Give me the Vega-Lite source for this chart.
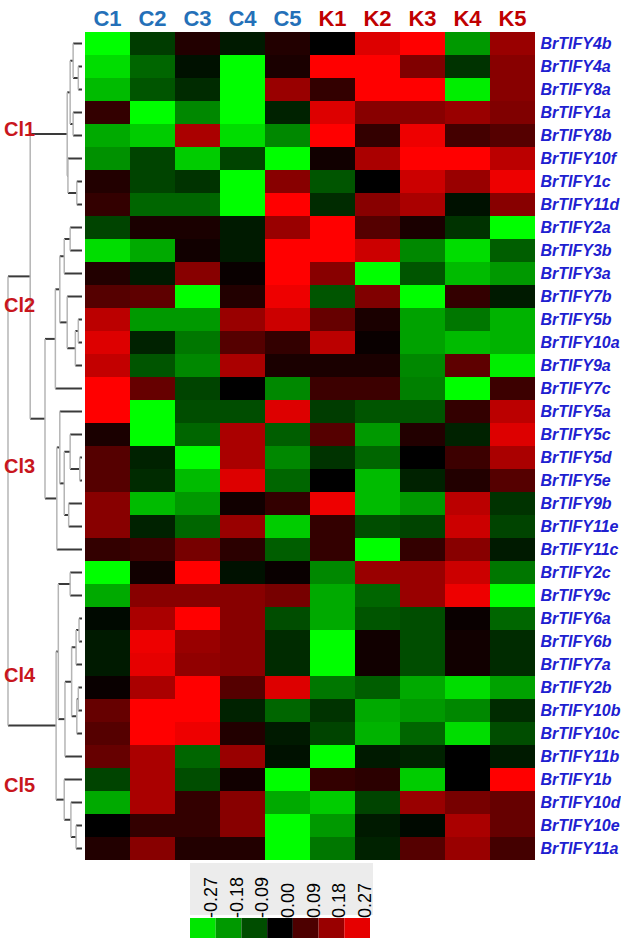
{
"$schema": "https://vega.github.io/schema/vega-lite/v6.json",
"padding": {"left": 0, "top": 7, "right": 0, "bottom": 0},
"config": {"view": {"stroke": null}, "font": "Liberation Sans"},
"datasets": {
"heat": [
{"g":"BrTIFY4b","c":"C1","v":-0.3},{"g":"BrTIFY4b","c":"C2","v":-0.07},{"g":"BrTIFY4b","c":"C3","v":0.04},{"g":"BrTIFY4b","c":"C4","v":-0.03},{"g":"BrTIFY4b","c":"C5","v":0.04},{"g":"BrTIFY4b","c":"K1","v":0.0},{"g":"BrTIFY4b","c":"K2","v":0.26},{"g":"BrTIFY4b","c":"K3","v":0.3},{"g":"BrTIFY4b","c":"K4","v":-0.18},{"g":"BrTIFY4b","c":"K5","v":0.18},
{"g":"BrTIFY4a","c":"C1","v":-0.26},{"g":"BrTIFY4a","c":"C2","v":-0.12},{"g":"BrTIFY4a","c":"C3","v":-0.02},{"g":"BrTIFY4a","c":"C4","v":-0.3},{"g":"BrTIFY4a","c":"C5","v":0.03},{"g":"BrTIFY4a","c":"K1","v":0.3},{"g":"BrTIFY4a","c":"K2","v":0.3},{"g":"BrTIFY4a","c":"K3","v":0.15},{"g":"BrTIFY4a","c":"K4","v":-0.06},{"g":"BrTIFY4a","c":"K5","v":0.16},
{"g":"BrTIFY8a","c":"C1","v":-0.22},{"g":"BrTIFY8a","c":"C2","v":-0.1},{"g":"BrTIFY8a","c":"C3","v":-0.05},{"g":"BrTIFY8a","c":"C4","v":-0.3},{"g":"BrTIFY8a","c":"C5","v":0.18},{"g":"BrTIFY8a","c":"K1","v":0.06},{"g":"BrTIFY8a","c":"K2","v":0.3},{"g":"BrTIFY8a","c":"K3","v":0.3},{"g":"BrTIFY8a","c":"K4","v":-0.28},{"g":"BrTIFY8a","c":"K5","v":0.16},
{"g":"BrTIFY1a","c":"C1","v":0.06},{"g":"BrTIFY1a","c":"C2","v":-0.3},{"g":"BrTIFY1a","c":"C3","v":-0.16},{"g":"BrTIFY1a","c":"C4","v":-0.3},{"g":"BrTIFY1a","c":"C5","v":-0.04},{"g":"BrTIFY1a","c":"K1","v":0.26},{"g":"BrTIFY1a","c":"K2","v":0.16},{"g":"BrTIFY1a","c":"K3","v":0.16},{"g":"BrTIFY1a","c":"K4","v":0.18},{"g":"BrTIFY1a","c":"K5","v":0.15},
{"g":"BrTIFY8b","c":"C1","v":-0.2},{"g":"BrTIFY8b","c":"C2","v":-0.24},{"g":"BrTIFY8b","c":"C3","v":0.2},{"g":"BrTIFY8b","c":"C4","v":-0.26},{"g":"BrTIFY8b","c":"C5","v":-0.16},{"g":"BrTIFY8b","c":"K1","v":0.3},{"g":"BrTIFY8b","c":"K2","v":0.06},{"g":"BrTIFY8b","c":"K3","v":0.28},{"g":"BrTIFY8b","c":"K4","v":0.08},{"g":"BrTIFY8b","c":"K5","v":0.1},
{"g":"BrTIFY10f","c":"C1","v":-0.17},{"g":"BrTIFY10f","c":"C2","v":-0.08},{"g":"BrTIFY10f","c":"C3","v":-0.24},{"g":"BrTIFY10f","c":"C4","v":-0.08},{"g":"BrTIFY10f","c":"C5","v":-0.3},{"g":"BrTIFY10f","c":"K1","v":0.02},{"g":"BrTIFY10f","c":"K2","v":0.2},{"g":"BrTIFY10f","c":"K3","v":0.3},{"g":"BrTIFY10f","c":"K4","v":0.3},{"g":"BrTIFY10f","c":"K5","v":0.22},
{"g":"BrTIFY1c","c":"C1","v":0.04},{"g":"BrTIFY1c","c":"C2","v":-0.08},{"g":"BrTIFY1c","c":"C3","v":-0.06},{"g":"BrTIFY1c","c":"C4","v":-0.3},{"g":"BrTIFY1c","c":"C5","v":0.16},{"g":"BrTIFY1c","c":"K1","v":-0.1},{"g":"BrTIFY1c","c":"K2","v":0.0},{"g":"BrTIFY1c","c":"K3","v":0.24},{"g":"BrTIFY1c","c":"K4","v":0.18},{"g":"BrTIFY1c","c":"K5","v":0.28},
{"g":"BrTIFY11d","c":"C1","v":0.06},{"g":"BrTIFY11d","c":"C2","v":-0.12},{"g":"BrTIFY11d","c":"C3","v":-0.12},{"g":"BrTIFY11d","c":"C4","v":-0.3},{"g":"BrTIFY11d","c":"C5","v":0.3},{"g":"BrTIFY11d","c":"K1","v":-0.05},{"g":"BrTIFY11d","c":"K2","v":0.16},{"g":"BrTIFY11d","c":"K3","v":0.2},{"g":"BrTIFY11d","c":"K4","v":-0.02},{"g":"BrTIFY11d","c":"K5","v":0.16},
{"g":"BrTIFY2a","c":"C1","v":-0.08},{"g":"BrTIFY2a","c":"C2","v":0.03},{"g":"BrTIFY2a","c":"C3","v":0.03},{"g":"BrTIFY2a","c":"C4","v":-0.03},{"g":"BrTIFY2a","c":"C5","v":0.18},{"g":"BrTIFY2a","c":"K1","v":0.3},{"g":"BrTIFY2a","c":"K2","v":0.1},{"g":"BrTIFY2a","c":"K3","v":0.03},{"g":"BrTIFY2a","c":"K4","v":-0.06},{"g":"BrTIFY2a","c":"K5","v":-0.3},
{"g":"BrTIFY3b","c":"C1","v":-0.26},{"g":"BrTIFY3b","c":"C2","v":-0.2},{"g":"BrTIFY3b","c":"C3","v":0.02},{"g":"BrTIFY3b","c":"C4","v":-0.03},{"g":"BrTIFY3b","c":"C5","v":0.3},{"g":"BrTIFY3b","c":"K1","v":0.3},{"g":"BrTIFY3b","c":"K2","v":0.24},{"g":"BrTIFY3b","c":"K3","v":-0.16},{"g":"BrTIFY3b","c":"K4","v":-0.26},{"g":"BrTIFY3b","c":"K5","v":-0.11},
{"g":"BrTIFY3a","c":"C1","v":0.04},{"g":"BrTIFY3a","c":"C2","v":-0.03},{"g":"BrTIFY3a","c":"C3","v":0.16},{"g":"BrTIFY3a","c":"C4","v":0.01},{"g":"BrTIFY3a","c":"C5","v":0.3},{"g":"BrTIFY3a","c":"K1","v":0.16},{"g":"BrTIFY3a","c":"K2","v":-0.3},{"g":"BrTIFY3a","c":"K3","v":-0.1},{"g":"BrTIFY3a","c":"K4","v":-0.22},{"g":"BrTIFY3a","c":"K5","v":-0.18},
{"g":"BrTIFY7b","c":"C1","v":0.1},{"g":"BrTIFY7b","c":"C2","v":0.11},{"g":"BrTIFY7b","c":"C3","v":-0.3},{"g":"BrTIFY7b","c":"C4","v":0.04},{"g":"BrTIFY7b","c":"C5","v":0.28},{"g":"BrTIFY7b","c":"K1","v":-0.1},{"g":"BrTIFY7b","c":"K2","v":0.15},{"g":"BrTIFY7b","c":"K3","v":-0.3},{"g":"BrTIFY7b","c":"K4","v":0.06},{"g":"BrTIFY7b","c":"K5","v":-0.03},
{"g":"BrTIFY5b","c":"C1","v":0.22},{"g":"BrTIFY5b","c":"C2","v":-0.18},{"g":"BrTIFY5b","c":"C3","v":-0.18},{"g":"BrTIFY5b","c":"C4","v":0.18},{"g":"BrTIFY5b","c":"C5","v":0.24},{"g":"BrTIFY5b","c":"K1","v":0.12},{"g":"BrTIFY5b","c":"K2","v":0.03},{"g":"BrTIFY5b","c":"K3","v":-0.19},{"g":"BrTIFY5b","c":"K4","v":-0.14},{"g":"BrTIFY5b","c":"K5","v":-0.21},
{"g":"BrTIFY10a","c":"C1","v":0.26},{"g":"BrTIFY10a","c":"C2","v":-0.04},{"g":"BrTIFY10a","c":"C3","v":-0.14},{"g":"BrTIFY10a","c":"C4","v":0.1},{"g":"BrTIFY10a","c":"C5","v":0.06},{"g":"BrTIFY10a","c":"K1","v":0.22},{"g":"BrTIFY10a","c":"K2","v":0.01},{"g":"BrTIFY10a","c":"K3","v":-0.19},{"g":"BrTIFY10a","c":"K4","v":-0.22},{"g":"BrTIFY10a","c":"K5","v":-0.21},
{"g":"BrTIFY9a","c":"C1","v":0.23},{"g":"BrTIFY9a","c":"C2","v":-0.1},{"g":"BrTIFY9a","c":"C3","v":-0.16},{"g":"BrTIFY9a","c":"C4","v":0.2},{"g":"BrTIFY9a","c":"C5","v":0.03},{"g":"BrTIFY9a","c":"K1","v":0.03},{"g":"BrTIFY9a","c":"K2","v":0.03},{"g":"BrTIFY9a","c":"K3","v":-0.16},{"g":"BrTIFY9a","c":"K4","v":0.11},{"g":"BrTIFY9a","c":"K5","v":-0.28},
{"g":"BrTIFY7c","c":"C1","v":0.3},{"g":"BrTIFY7c","c":"C2","v":0.12},{"g":"BrTIFY7c","c":"C3","v":-0.08},{"g":"BrTIFY7c","c":"C4","v":0.0},{"g":"BrTIFY7c","c":"C5","v":-0.16},{"g":"BrTIFY7c","c":"K1","v":0.07},{"g":"BrTIFY7c","c":"K2","v":0.07},{"g":"BrTIFY7c","c":"K3","v":-0.15},{"g":"BrTIFY7c","c":"K4","v":-0.3},{"g":"BrTIFY7c","c":"K5","v":0.07},
{"g":"BrTIFY5a","c":"C1","v":0.3},{"g":"BrTIFY5a","c":"C2","v":-0.3},{"g":"BrTIFY5a","c":"C3","v":-0.09},{"g":"BrTIFY5a","c":"C4","v":-0.09},{"g":"BrTIFY5a","c":"C5","v":0.26},{"g":"BrTIFY5a","c":"K1","v":-0.07},{"g":"BrTIFY5a","c":"K2","v":-0.1},{"g":"BrTIFY5a","c":"K3","v":-0.1},{"g":"BrTIFY5a","c":"K4","v":0.06},{"g":"BrTIFY5a","c":"K5","v":0.22},
{"g":"BrTIFY5c","c":"C1","v":0.03},{"g":"BrTIFY5c","c":"C2","v":-0.3},{"g":"BrTIFY5c","c":"C3","v":-0.12},{"g":"BrTIFY5c","c":"C4","v":0.2},{"g":"BrTIFY5c","c":"C5","v":-0.11},{"g":"BrTIFY5c","c":"K1","v":0.1},{"g":"BrTIFY5c","c":"K2","v":-0.18},{"g":"BrTIFY5c","c":"K3","v":0.04},{"g":"BrTIFY5c","c":"K4","v":-0.04},{"g":"BrTIFY5c","c":"K5","v":0.26},
{"g":"BrTIFY5d","c":"C1","v":0.1},{"g":"BrTIFY5d","c":"C2","v":-0.04},{"g":"BrTIFY5d","c":"C3","v":-0.3},{"g":"BrTIFY5d","c":"C4","v":0.2},{"g":"BrTIFY5d","c":"C5","v":-0.16},{"g":"BrTIFY5d","c":"K1","v":-0.06},{"g":"BrTIFY5d","c":"K2","v":-0.12},{"g":"BrTIFY5d","c":"K3","v":0.0},{"g":"BrTIFY5d","c":"K4","v":0.07},{"g":"BrTIFY5d","c":"K5","v":0.2},
{"g":"BrTIFY5e","c":"C1","v":0.1},{"g":"BrTIFY5e","c":"C2","v":-0.05},{"g":"BrTIFY5e","c":"C3","v":-0.22},{"g":"BrTIFY5e","c":"C4","v":0.26},{"g":"BrTIFY5e","c":"C5","v":-0.12},{"g":"BrTIFY5e","c":"K1","v":0.0},{"g":"BrTIFY5e","c":"K2","v":-0.22},{"g":"BrTIFY5e","c":"K3","v":-0.04},{"g":"BrTIFY5e","c":"K4","v":0.04},{"g":"BrTIFY5e","c":"K5","v":0.1},
{"g":"BrTIFY9b","c":"C1","v":0.16},{"g":"BrTIFY9b","c":"C2","v":-0.22},{"g":"BrTIFY9b","c":"C3","v":-0.18},{"g":"BrTIFY9b","c":"C4","v":0.02},{"g":"BrTIFY9b","c":"C5","v":0.06},{"g":"BrTIFY9b","c":"K1","v":0.28},{"g":"BrTIFY9b","c":"K2","v":-0.22},{"g":"BrTIFY9b","c":"K3","v":-0.18},{"g":"BrTIFY9b","c":"K4","v":0.22},{"g":"BrTIFY9b","c":"K5","v":-0.06},
{"g":"BrTIFY11e","c":"C1","v":0.16},{"g":"BrTIFY11e","c":"C2","v":-0.04},{"g":"BrTIFY11e","c":"C3","v":-0.12},{"g":"BrTIFY11e","c":"C4","v":0.18},{"g":"BrTIFY11e","c":"C5","v":-0.24},{"g":"BrTIFY11e","c":"K1","v":0.06},{"g":"BrTIFY11e","c":"K2","v":-0.09},{"g":"BrTIFY11e","c":"K3","v":-0.08},{"g":"BrTIFY11e","c":"K4","v":0.24},{"g":"BrTIFY11e","c":"K5","v":-0.08},
{"g":"BrTIFY11c","c":"C1","v":0.06},{"g":"BrTIFY11c","c":"C2","v":0.07},{"g":"BrTIFY11c","c":"C3","v":0.14},{"g":"BrTIFY11c","c":"C4","v":0.05},{"g":"BrTIFY11c","c":"C5","v":-0.11},{"g":"BrTIFY11c","c":"K1","v":0.06},{"g":"BrTIFY11c","c":"K2","v":-0.3},{"g":"BrTIFY11c","c":"K3","v":0.06},{"g":"BrTIFY11c","c":"K4","v":0.16},{"g":"BrTIFY11c","c":"K5","v":-0.03},
{"g":"BrTIFY2c","c":"C1","v":-0.3},{"g":"BrTIFY2c","c":"C2","v":0.02},{"g":"BrTIFY2c","c":"C3","v":0.3},{"g":"BrTIFY2c","c":"C4","v":-0.02},{"g":"BrTIFY2c","c":"C5","v":0.01},{"g":"BrTIFY2c","c":"K1","v":-0.16},{"g":"BrTIFY2c","c":"K2","v":0.18},{"g":"BrTIFY2c","c":"K3","v":0.18},{"g":"BrTIFY2c","c":"K4","v":0.24},{"g":"BrTIFY2c","c":"K5","v":-0.14},
{"g":"BrTIFY9c","c":"C1","v":-0.2},{"g":"BrTIFY9c","c":"C2","v":0.16},{"g":"BrTIFY9c","c":"C3","v":0.16},{"g":"BrTIFY9c","c":"C4","v":0.16},{"g":"BrTIFY9c","c":"C5","v":0.14},{"g":"BrTIFY9c","c":"K1","v":-0.2},{"g":"BrTIFY9c","c":"K2","v":-0.12},{"g":"BrTIFY9c","c":"K3","v":0.18},{"g":"BrTIFY9c","c":"K4","v":0.28},{"g":"BrTIFY9c","c":"K5","v":-0.3},
{"g":"BrTIFY6a","c":"C1","v":-0.01},{"g":"BrTIFY6a","c":"C2","v":0.2},{"g":"BrTIFY6a","c":"C3","v":0.3},{"g":"BrTIFY6a","c":"C4","v":0.16},{"g":"BrTIFY6a","c":"C5","v":-0.09},{"g":"BrTIFY6a","c":"K1","v":-0.2},{"g":"BrTIFY6a","c":"K2","v":-0.1},{"g":"BrTIFY6a","c":"K3","v":-0.09},{"g":"BrTIFY6a","c":"K4","v":0.01},{"g":"BrTIFY6a","c":"K5","v":-0.12},
{"g":"BrTIFY6b","c":"C1","v":-0.03},{"g":"BrTIFY6b","c":"C2","v":0.28},{"g":"BrTIFY6b","c":"C3","v":0.18},{"g":"BrTIFY6b","c":"C4","v":0.16},{"g":"BrTIFY6b","c":"C5","v":-0.05},{"g":"BrTIFY6b","c":"K1","v":-0.3},{"g":"BrTIFY6b","c":"K2","v":0.02},{"g":"BrTIFY6b","c":"K3","v":-0.09},{"g":"BrTIFY6b","c":"K4","v":0.02},{"g":"BrTIFY6b","c":"K5","v":-0.05},
{"g":"BrTIFY7a","c":"C1","v":-0.03},{"g":"BrTIFY7a","c":"C2","v":0.27},{"g":"BrTIFY7a","c":"C3","v":0.17},{"g":"BrTIFY7a","c":"C4","v":0.16},{"g":"BrTIFY7a","c":"C5","v":-0.05},{"g":"BrTIFY7a","c":"K1","v":-0.3},{"g":"BrTIFY7a","c":"K2","v":0.02},{"g":"BrTIFY7a","c":"K3","v":-0.09},{"g":"BrTIFY7a","c":"K4","v":0.02},{"g":"BrTIFY7a","c":"K5","v":-0.05},
{"g":"BrTIFY2b","c":"C1","v":0.01},{"g":"BrTIFY2b","c":"C2","v":0.2},{"g":"BrTIFY2b","c":"C3","v":0.3},{"g":"BrTIFY2b","c":"C4","v":0.1},{"g":"BrTIFY2b","c":"C5","v":0.26},{"g":"BrTIFY2b","c":"K1","v":-0.14},{"g":"BrTIFY2b","c":"K2","v":-0.11},{"g":"BrTIFY2b","c":"K3","v":-0.2},{"g":"BrTIFY2b","c":"K4","v":-0.26},{"g":"BrTIFY2b","c":"K5","v":-0.19},
{"g":"BrTIFY10b","c":"C1","v":0.12},{"g":"BrTIFY10b","c":"C2","v":0.3},{"g":"BrTIFY10b","c":"C3","v":0.3},{"g":"BrTIFY10b","c":"C4","v":-0.04},{"g":"BrTIFY10b","c":"C5","v":-0.12},{"g":"BrTIFY10b","c":"K1","v":-0.06},{"g":"BrTIFY10b","c":"K2","v":-0.2},{"g":"BrTIFY10b","c":"K3","v":-0.18},{"g":"BrTIFY10b","c":"K4","v":-0.16},{"g":"BrTIFY10b","c":"K5","v":-0.05},
{"g":"BrTIFY10c","c":"C1","v":0.1},{"g":"BrTIFY10c","c":"C2","v":0.3},{"g":"BrTIFY10c","c":"C3","v":0.28},{"g":"BrTIFY10c","c":"C4","v":0.04},{"g":"BrTIFY10c","c":"C5","v":-0.03},{"g":"BrTIFY10c","c":"K1","v":-0.08},{"g":"BrTIFY10c","c":"K2","v":-0.21},{"g":"BrTIFY10c","c":"K3","v":-0.12},{"g":"BrTIFY10c","c":"K4","v":-0.26},{"g":"BrTIFY10c","c":"K5","v":-0.09},
{"g":"BrTIFY11b","c":"C1","v":0.12},{"g":"BrTIFY11b","c":"C2","v":0.2},{"g":"BrTIFY11b","c":"C3","v":-0.12},{"g":"BrTIFY11b","c":"C4","v":0.18},{"g":"BrTIFY11b","c":"C5","v":-0.02},{"g":"BrTIFY11b","c":"K1","v":-0.3},{"g":"BrTIFY11b","c":"K2","v":-0.03},{"g":"BrTIFY11b","c":"K3","v":-0.04},{"g":"BrTIFY11b","c":"K4","v":0.0},{"g":"BrTIFY11b","c":"K5","v":-0.03},
{"g":"BrTIFY1b","c":"C1","v":-0.08},{"g":"BrTIFY1b","c":"C2","v":0.2},{"g":"BrTIFY1b","c":"C3","v":-0.09},{"g":"BrTIFY1b","c":"C4","v":0.02},{"g":"BrTIFY1b","c":"C5","v":-0.3},{"g":"BrTIFY1b","c":"K1","v":0.06},{"g":"BrTIFY1b","c":"K2","v":0.05},{"g":"BrTIFY1b","c":"K3","v":-0.24},{"g":"BrTIFY1b","c":"K4","v":0.0},{"g":"BrTIFY1b","c":"K5","v":0.3},
{"g":"BrTIFY10d","c":"C1","v":-0.2},{"g":"BrTIFY10d","c":"C2","v":0.2},{"g":"BrTIFY10d","c":"C3","v":0.06},{"g":"BrTIFY10d","c":"C4","v":0.16},{"g":"BrTIFY10d","c":"C5","v":-0.2},{"g":"BrTIFY10d","c":"K1","v":-0.24},{"g":"BrTIFY10d","c":"K2","v":-0.08},{"g":"BrTIFY10d","c":"K3","v":0.18},{"g":"BrTIFY10d","c":"K4","v":0.14},{"g":"BrTIFY10d","c":"K5","v":0.12},
{"g":"BrTIFY10e","c":"C1","v":0.0},{"g":"BrTIFY10e","c":"C2","v":0.06},{"g":"BrTIFY10e","c":"C3","v":0.06},{"g":"BrTIFY10e","c":"C4","v":0.16},{"g":"BrTIFY10e","c":"C5","v":-0.3},{"g":"BrTIFY10e","c":"K1","v":-0.18},{"g":"BrTIFY10e","c":"K2","v":-0.03},{"g":"BrTIFY10e","c":"K3","v":-0.01},{"g":"BrTIFY10e","c":"K4","v":0.2},{"g":"BrTIFY10e","c":"K5","v":0.12},
{"g":"BrTIFY11a","c":"C1","v":0.04},{"g":"BrTIFY11a","c":"C2","v":0.16},{"g":"BrTIFY11a","c":"C3","v":0.04},{"g":"BrTIFY11a","c":"C4","v":0.04},{"g":"BrTIFY11a","c":"C5","v":-0.3},{"g":"BrTIFY11a","c":"K1","v":-0.14},{"g":"BrTIFY11a","c":"K2","v":-0.04},{"g":"BrTIFY11a","c":"K3","v":0.1},{"g":"BrTIFY11a","c":"K4","v":0.18},{"g":"BrTIFY11a","c":"K5","v":0.08}
],
"dendH": [
{"y":0,"h0":0,"h1":0.12},{"y":1,"h0":0,"h1":0.05},{"y":2,"h0":0,"h1":0.05},{"y":3,"h0":0,"h1":0.12},{"y":4,"h0":0,"h1":0.12},{"y":5,"h0":0,"h1":0.19},{"y":6,"h0":0,"h1":0.07},{"y":7,"h0":0,"h1":0.07},{"y":8,"h0":0,"h1":0.16},{"y":9,"h0":0,"h1":0.16},{"y":10,"h0":0,"h1":0.24},{"y":11,"h0":0,"h1":0.2},{"y":12,"h0":0,"h1":0.05},{"y":13,"h0":0,"h1":0.05},{"y":14,"h0":0,"h1":0.09},{"y":15,"h0":0,"h1":0.36},{"y":16,"h0":0,"h1":0.3},{"y":17,"h0":0,"h1":0.16},{"y":18,"h0":0,"h1":0.03},{"y":19,"h0":0,"h1":0.03},{"y":20,"h0":0,"h1":0.18},{"y":21,"h0":0,"h1":0.18},{"y":22,"h0":0,"h1":0.34},{"y":23,"h0":0,"h1":0.16},{"y":24,"h0":0,"h1":0.16},{"y":25,"h0":0,"h1":0.04},{"y":26,"h0":0,"h1":0.04},{"y":27,"h0":0,"h1":0.08},{"y":28,"h0":0,"h1":0.05},{"y":29,"h0":0,"h1":0.05},{"y":30,"h0":0,"h1":0.07},{"y":31,"h0":0,"h1":0.23},{"y":32,"h0":0,"h1":0.24},{"y":33,"h0":0,"h1":0.15},{"y":34,"h0":0,"h1":0.08},{"y":35,"h0":0,"h1":0.08},
{"y":1.5,"h0":0.05,"h1":0.12},{"y":0.75,"h0":0.12,"h1":0.16},{"y":3.5,"h0":0.12,"h1":0.16},{"y":2.125,"h0":0.16,"h1":0.2},{"y":6.5,"h0":0.07,"h1":0.19},{"y":5.75,"h0":0.19,"h1":0.2},{"y":3.9375,"h0":0.2,"h1":0.7},
{"y":8.5,"h0":0.16,"h1":0.24},{"y":9.25,"h0":0.24,"h1":0.3},{"y":12.5,"h0":0.05,"h1":0.09},{"y":13.25,"h0":0.09,"h1":0.2},{"y":12.125,"h0":0.2,"h1":0.3},{"y":10.6875,"h0":0.3,"h1":0.36},{"y":12.84375,"h0":0.36,"h1":0.5},
{"y":18.5,"h0":0.03,"h1":0.16},{"y":17.75,"h0":0.16,"h1":0.24},{"y":20.5,"h0":0.18,"h1":0.24},{"y":19.125,"h0":0.24,"h1":0.3},{"y":17.5625,"h0":0.3,"h1":0.34},{"y":19.78125,"h0":0.34,"h1":0.5},{"y":16.3125,"h0":0.5,"h1":0.7},{"y":10.125,"h0":0.7,"h1":1.0},
{"y":23.5,"h0":0.16,"h1":0.32},{"y":25.5,"h0":0.04,"h1":0.08},{"y":26.25,"h0":0.08,"h1":0.14},{"y":28.5,"h0":0.05,"h1":0.07},{"y":29.25,"h0":0.07,"h1":0.14},{"y":27.75,"h0":0.14,"h1":0.23},{"y":29.375,"h0":0.23,"h1":0.32},{"y":26.4375,"h0":0.32,"h1":0.35},
{"y":34.5,"h0":0.08,"h1":0.15},{"y":33.75,"h0":0.15,"h1":0.24},{"y":32.875,"h0":0.24,"h1":0.35},{"y":29.65625,"h0":0.35,"h1":1.0}
],
"dendV": [
{"h":0.05,"y0":1,"y1":2},{"h":0.12,"y0":0,"y1":1.5},{"h":0.12,"y0":3,"y1":4},{"h":0.16,"y0":0.75,"y1":3.5},{"h":0.07,"y0":6,"y1":7},{"h":0.19,"y0":5,"y1":6.5},{"h":0.2,"y0":2.125,"y1":5.75},
{"h":0.16,"y0":8,"y1":9},{"h":0.24,"y0":8.5,"y1":10},{"h":0.05,"y0":12,"y1":13},{"h":0.09,"y0":12.5,"y1":14},{"h":0.2,"y0":11,"y1":13.25},{"h":0.3,"y0":9.25,"y1":12.125},{"h":0.36,"y0":10.6875,"y1":15},
{"h":0.03,"y0":18,"y1":19},{"h":0.16,"y0":17,"y1":18.5},{"h":0.18,"y0":20,"y1":21},{"h":0.24,"y0":17.75,"y1":20.5},{"h":0.3,"y0":16,"y1":19.125},{"h":0.34,"y0":17.5625,"y1":22},
{"h":0.5,"y0":12.84375,"y1":19.78125},{"h":0.7,"y0":3.9375,"y1":16.3125},
{"h":0.16,"y0":23,"y1":24},{"h":0.04,"y0":25,"y1":26},{"h":0.08,"y0":25.5,"y1":27},{"h":0.05,"y0":28,"y1":29},{"h":0.07,"y0":28.5,"y1":30},{"h":0.14,"y0":26.25,"y1":29.25},{"h":0.23,"y0":27.75,"y1":31},{"h":0.32,"y0":23.5,"y1":29.375},
{"h":0.08,"y0":34,"y1":35},{"h":0.15,"y0":33,"y1":34.5},{"h":0.24,"y0":32,"y1":33.75},{"h":0.35,"y0":26.4375,"y1":32.875},{"h":1.0,"y0":10.125,"y1":29.65625}
],
"clusters": [
{"label":"Cl1","y":3.76},{"label":"Cl2","y":11.4},{"label":"Cl3","y":18.4},{"label":"Cl4","y":27.5},{"label":"Cl5","y":32.3}
],
"legend": [
{"v":-0.27,"label":"-0.27","lo":-0.315,"hi":-0.225},{"v":-0.18,"label":"-0.18","lo":-0.225,"hi":-0.135},{"v":-0.09,"label":"-0.09","lo":-0.135,"hi":-0.045},{"v":0.0,"label":"0.00","lo":-0.045,"hi":0.045},{"v":0.09,"label":"0.09","lo":0.045,"hi":0.135},{"v":0.18,"label":"0.18","lo":0.135,"hi":0.225},{"v":0.27,"label":"0.27","lo":0.225,"hi":0.315}
]
},
"bounds": "flush",
"spacing": 3,
"columns": 2,
"concat": [
{
"width": 82,
"height": 828,
"layer": [
{"data": {"name": "dendH"},
 "mark": {"type": "rule", "color": "#3a3a3a", "strokeWidth": 2},
 "encoding": {
  "x": {"field": "h0", "type": "quantitative", "scale": {"domain": [0, 1.1081], "reverse": true, "nice": false, "zero": false}, "axis": null},
  "x2": {"field": "h1"},
  "y": {"field": "y", "type": "quantitative", "scale": {"domain": [-0.5, 35.5], "reverse": true, "nice": false, "zero": false}, "axis": null}
 }},
{"data": {"name": "dendV"},
 "mark": {"type": "rule", "color": "#b5b5b5", "strokeWidth": 1.5},
 "encoding": {
  "x": {"field": "h", "type": "quantitative"},
  "y": {"field": "y0", "type": "quantitative"},
  "y2": {"field": "y1"}
 }},
{"data": {"name": "clusters"},
 "mark": {"type": "text", "align": "left", "baseline": "middle", "fontSize": 20, "fontWeight": "bold", "color": "#c8161d"},
 "encoding": {
  "x": {"datum": 1.054, "type": "quantitative"},
  "y": {"field": "y", "type": "quantitative"},
  "text": {"field": "label"}
 }}
]
},
{
"width": 450,
"height": 828,
"data": {"name": "heat"},
"mark": {"type": "rect"},
"encoding": {
 "x": {"field": "c", "type": "nominal",
  "sort": ["C1","C2","C3","C4","C5","K1","K2","K3","K4","K5"],
  "axis": {"orient": "top", "title": null, "domain": false, "ticks": false, "labelAngle": 0,
   "labelFontSize": 22, "labelFontWeight": "bold", "labelPadding": 7, "labelBaseline": "alphabetic",
   "labelColor": {"condition": {"test": "indexof(datum.value, 'C') === 0", "value": "#2470b8"}, "value": "#c00000"}}},
 "y": {"field": "g", "type": "nominal",
  "sort": ["BrTIFY4b","BrTIFY4a","BrTIFY8a","BrTIFY1a","BrTIFY8b","BrTIFY10f","BrTIFY1c","BrTIFY11d","BrTIFY2a","BrTIFY3b","BrTIFY3a","BrTIFY7b","BrTIFY5b","BrTIFY10a","BrTIFY9a","BrTIFY7c","BrTIFY5a","BrTIFY5c","BrTIFY5d","BrTIFY5e","BrTIFY9b","BrTIFY11e","BrTIFY11c","BrTIFY2c","BrTIFY9c","BrTIFY6a","BrTIFY6b","BrTIFY7a","BrTIFY2b","BrTIFY10b","BrTIFY10c","BrTIFY11b","BrTIFY1b","BrTIFY10d","BrTIFY10e","BrTIFY11a"],
  "axis": {"orient": "right", "title": null, "domain": false, "ticks": false,
   "labelFontSize": 16, "labelFontWeight": "bold", "labelFontStyle": "italic", "labelColor": "#2020d0", "labelPadding": 5}},
 "color": {"field": "v", "type": "quantitative",
  "scale": {"type": "linear", "domain": [-0.3, 0, 0.3], "range": ["#00ff00", "#000000", "#ff0000"], "interpolate": "rgb", "clamp": true},
  "legend": null}
}
},
{
"width": 82,
"height": 75,
"layer": [
{"data": {"values": [{}]},
 "mark": {"type": "rect", "color": "#ececec"},
 "encoding": {
  "x": {"datum": -0.315, "type": "quantitative", "scale": {"domain": [-0.315, 0.315], "range": [190, 370], "nice": false, "zero": false}, "axis": null},
  "x2": {"datum": 0.3255},
  "y": {"datum": 1, "type": "quantitative", "scale": {"domain": [0, 1], "nice": false, "zero": false}, "axis": null},
  "y2": {"datum": 0.307}
 }},
{"data": {"name": "legend"},
 "mark": {"type": "rect"},
 "encoding": {
  "x": {"field": "lo", "type": "quantitative"},
  "x2": {"field": "hi"},
  "y": {"datum": 0.267, "type": "quantitative"},
  "y2": {"datum": 0},
  "color": {"field": "v", "type": "quantitative",
   "scale": {"type": "linear", "domain": [-0.3, 0, 0.3], "range": ["#00ff00", "#000000", "#ff0000"], "interpolate": "rgb", "clamp": true},
   "legend": null}
 }},
{"data": {"name": "legend"},
 "mark": {"type": "text", "angle": 270, "align": "left", "baseline": "top", "fontSize": 18, "color": "#000000"},
 "encoding": {
  "x": {"field": "v", "type": "quantitative"},
  "y": {"datum": 0.267, "type": "quantitative"},
  "text": {"field": "label", "type": "nominal"}
 }}
]
}
]
}
